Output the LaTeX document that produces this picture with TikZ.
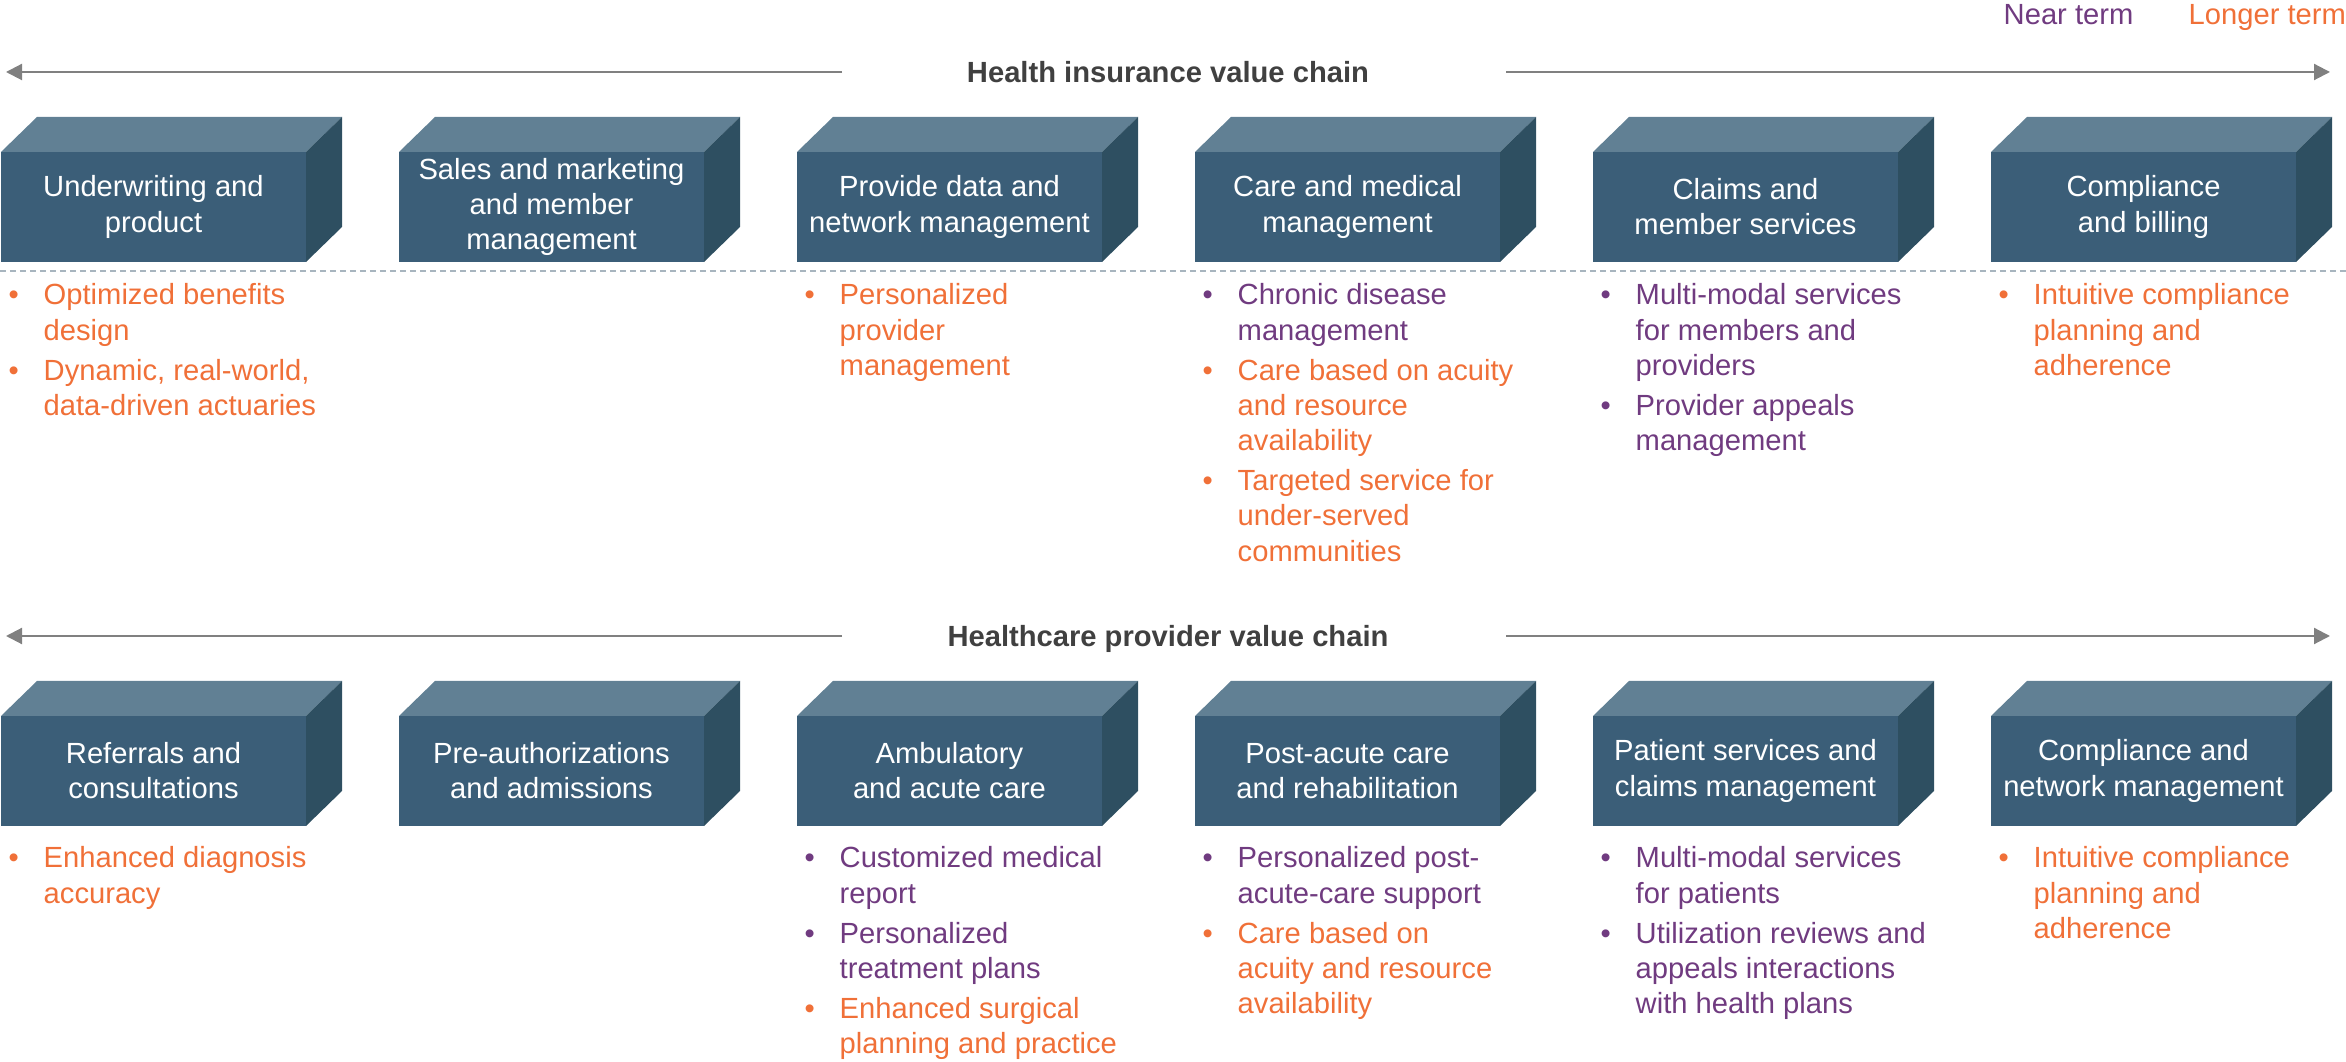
\documentclass[tikz,border=0pt]{standalone}
\usepackage{fontspec}
\setmainfont{Liberation Sans}
\usepackage{xcolor}
\usepackage{tikz}
\usetikzlibrary{
	arrows.meta,
}
\definecolor{boxfront}{rgb}{0.23, 0.37, 0.47}
\definecolor{boxtop}{rgb}{0.38, 0.50, 0.58}
\definecolor{boxside}{rgb}{0.18, 0.31, 0.38}
\definecolor{nearterm}{rgb}{0.44, 0.23, 0.50}
\definecolor{longerterm}{rgb}{0.94, 0.44, 0.22}
\definecolor{chaingray}{rgb}{0.50, 0.50, 0.50}
\definecolor{titlegray}{rgb}{0.25, 0.25, 0.25}
\definecolor{separator}{rgb}{0.66, 0.71, 0.75}

\newcommand{\nbul}{\textcolor{nearterm}{\textbullet}}
\newcommand{\lbul}{\textcolor{longerterm}{\textbullet}}
\newcommand{\nterm}[1]{\textcolor{nearterm}{#1}}
\newcommand{\lterm}[1]{\textcolor{longerterm}{#1}}

% one block of the value chain: x, y of front bottom left, name, label
\newcommand{\valuebox}[4]{%
\fill[boxtop] (#1,#2+1.10) -- ++(0.36,0.35) -- ++(3.05,0) -- ++(-0.36,-0.35) -- cycle;
\fill[boxside] (#1+3.05,#2) -- ++(0.36,0.35) -- ++(0,1.10) -- ++(-0.36,-0.35) -- cycle;
\fill[boxfront] (#1,#2) rectangle ++(3.05,1.10);
\node[boxlabel] (#3) at (#1+1.525,#2+0.55) {#4};
}

\begin{document}
\begin{tikzpicture}[every node/.style={font=\fontsize{8.3}{10}\selectfont},
	boxlabel/.style={text=white, align=center, inner sep=0pt},
	itemlist/.style={anchor=base west, inner sep=0pt},
	chaintitle/.style={anchor=base, inner sep=0pt, text=titlegray, font=\fontsize{8.3}{10}\selectfont\bfseries},
	chainarrow/.style={draw=chaingray, line width=0.6pt, -{Triangle[length=0.16cm, width=0.16cm]}}]
\useasboundingbox (0,0) rectangle (23.46,10.62);

% legend
\node[anchor=base west, inner sep=0pt, text=nearterm] (near) at (20.03,10.37) {Near term};
\node[anchor=base west, inner sep=0pt, text=longerterm] (longer) at (21.88,10.37) {Longer term};

%% health insurance value chain
\node[chaintitle] (ins) at (11.68,9.79) {Health insurance value chain};
\coordinate (insL) at (0.06,9.90);
\coordinate (insA) at (8.42,9.90);
\coordinate (insB) at (15.06,9.90);
\coordinate (insR) at (23.30,9.90);
\draw[chainarrow] (insA) -- (insL);
\draw[chainarrow] (insB) -- (insR);

\valuebox{0.01}{8.00}{uw}{Underwriting and\\product}
\valuebox{3.99}{8.00}{sales}{Sales and marketing\\and member\\management}
\valuebox{7.97}{8.00}{data}{Provide data and\\network management}
\valuebox{11.95}{8.00}{care}{Care and medical\\management}
\valuebox{15.93}{8.00}{claims}{Claims and\\member services}
\valuebox{19.91}{8.00}{billing}{Compliance\\and billing}

% dashed separator
\draw[separator, line width=0.6pt, dash pattern=on 0.06cm off 0.04cm] (0,7.91) -- (23.46,7.91);

\node[itemlist] (uwlist) at (0.08,7.57) {\begin{tabular}[t]{@{}p{0.35cm}@{}l@{}}
\lbul & \lterm{Optimized benefits}\\
      & \lterm{design}\\[0.05cm]
\lbul & \lterm{Dynamic, real-world,}\\
      & \lterm{data-driven actuaries}
\end{tabular}};
\node[itemlist] (datalist) at (8.04,7.57) {\begin{tabular}[t]{@{}p{0.35cm}@{}l@{}}
\lbul & \lterm{Personalized}\\
      & \lterm{provider}\\
      & \lterm{management}
\end{tabular}};
\node[itemlist] (carelist) at (12.02,7.57) {\begin{tabular}[t]{@{}p{0.35cm}@{}l@{}}
\nbul & \nterm{Chronic disease}\\
      & \nterm{management}\\[0.05cm]
\lbul & \lterm{Care based on acuity}\\
      & \lterm{and resource}\\
      & \lterm{availability}\\[0.05cm]
\lbul & \lterm{Targeted service for}\\
      & \lterm{under-served}\\
      & \lterm{communities}
\end{tabular}};
\node[itemlist] (claimslist) at (16.00,7.57) {\begin{tabular}[t]{@{}p{0.35cm}@{}l@{}}
\nbul & \nterm{Multi-modal services}\\
      & \nterm{for members and}\\
      & \nterm{providers}\\[0.05cm]
\nbul & \nterm{Provider appeals}\\
      & \nterm{management}
\end{tabular}};
\node[itemlist] (billinglist) at (19.98,7.57) {\begin{tabular}[t]{@{}p{0.35cm}@{}l@{}}
\lbul & \lterm{Intuitive compliance}\\
      & \lterm{planning and}\\
      & \lterm{adherence}
\end{tabular}};

%% healthcare provider value chain
\node[chaintitle] (prov) at (11.68,4.15) {Healthcare provider value chain};
\coordinate (provL) at (0.06,4.26);
\coordinate (provA) at (8.42,4.26);
\coordinate (provB) at (15.06,4.26);
\coordinate (provR) at (23.30,4.26);
\draw[chainarrow] (provA) -- (provL);
\draw[chainarrow] (provB) -- (provR);

\valuebox{0.01}{2.36}{referrals}{Referrals and\\consultations}
\valuebox{3.99}{2.36}{preauth}{Pre-authorizations\\and admissions}
\valuebox{7.97}{2.36}{acute}{Ambulatory\\and acute care}
\valuebox{11.95}{2.36}{rehab}{Post-acute care\\and rehabilitation}
\valuebox{15.93}{2.36}{patient}{Patient services and\\claims management}
\valuebox{19.91}{2.36}{network}{Compliance and\\network management}

\node[itemlist] (referralslist) at (0.08,1.94) {\begin{tabular}[t]{@{}p{0.35cm}@{}l@{}}
\lbul & \lterm{Enhanced diagnosis}\\
      & \lterm{accuracy}
\end{tabular}};
\node[itemlist] (acutelist) at (8.04,1.94) {\begin{tabular}[t]{@{}p{0.35cm}@{}l@{}}
\nbul & \nterm{Customized medical}\\
      & \nterm{report}\\[0.05cm]
\nbul & \nterm{Personalized}\\
      & \nterm{treatment plans}\\[0.05cm]
\lbul & \lterm{Enhanced surgical}\\
      & \lterm{planning and practice}
\end{tabular}};
\node[itemlist] (rehablist) at (12.02,1.94) {\begin{tabular}[t]{@{}p{0.35cm}@{}l@{}}
\nbul & \nterm{Personalized post-}\\
      & \nterm{acute-care support}\\[0.05cm]
\lbul & \lterm{Care based on}\\
      & \lterm{acuity and resource}\\
      & \lterm{availability}
\end{tabular}};
\node[itemlist] (patientlist) at (16.00,1.94) {\begin{tabular}[t]{@{}p{0.35cm}@{}l@{}}
\nbul & \nterm{Multi-modal services}\\
      & \nterm{for patients}\\[0.05cm]
\nbul & \nterm{Utilization reviews and}\\
      & \nterm{appeals interactions}\\
      & \nterm{with health plans}
\end{tabular}};
\node[itemlist] (networklist) at (19.98,1.94) {\begin{tabular}[t]{@{}p{0.35cm}@{}l@{}}
\lbul & \lterm{Intuitive compliance}\\
      & \lterm{planning and}\\
      & \lterm{adherence}
\end{tabular}};

\end{tikzpicture}
\end{document}
